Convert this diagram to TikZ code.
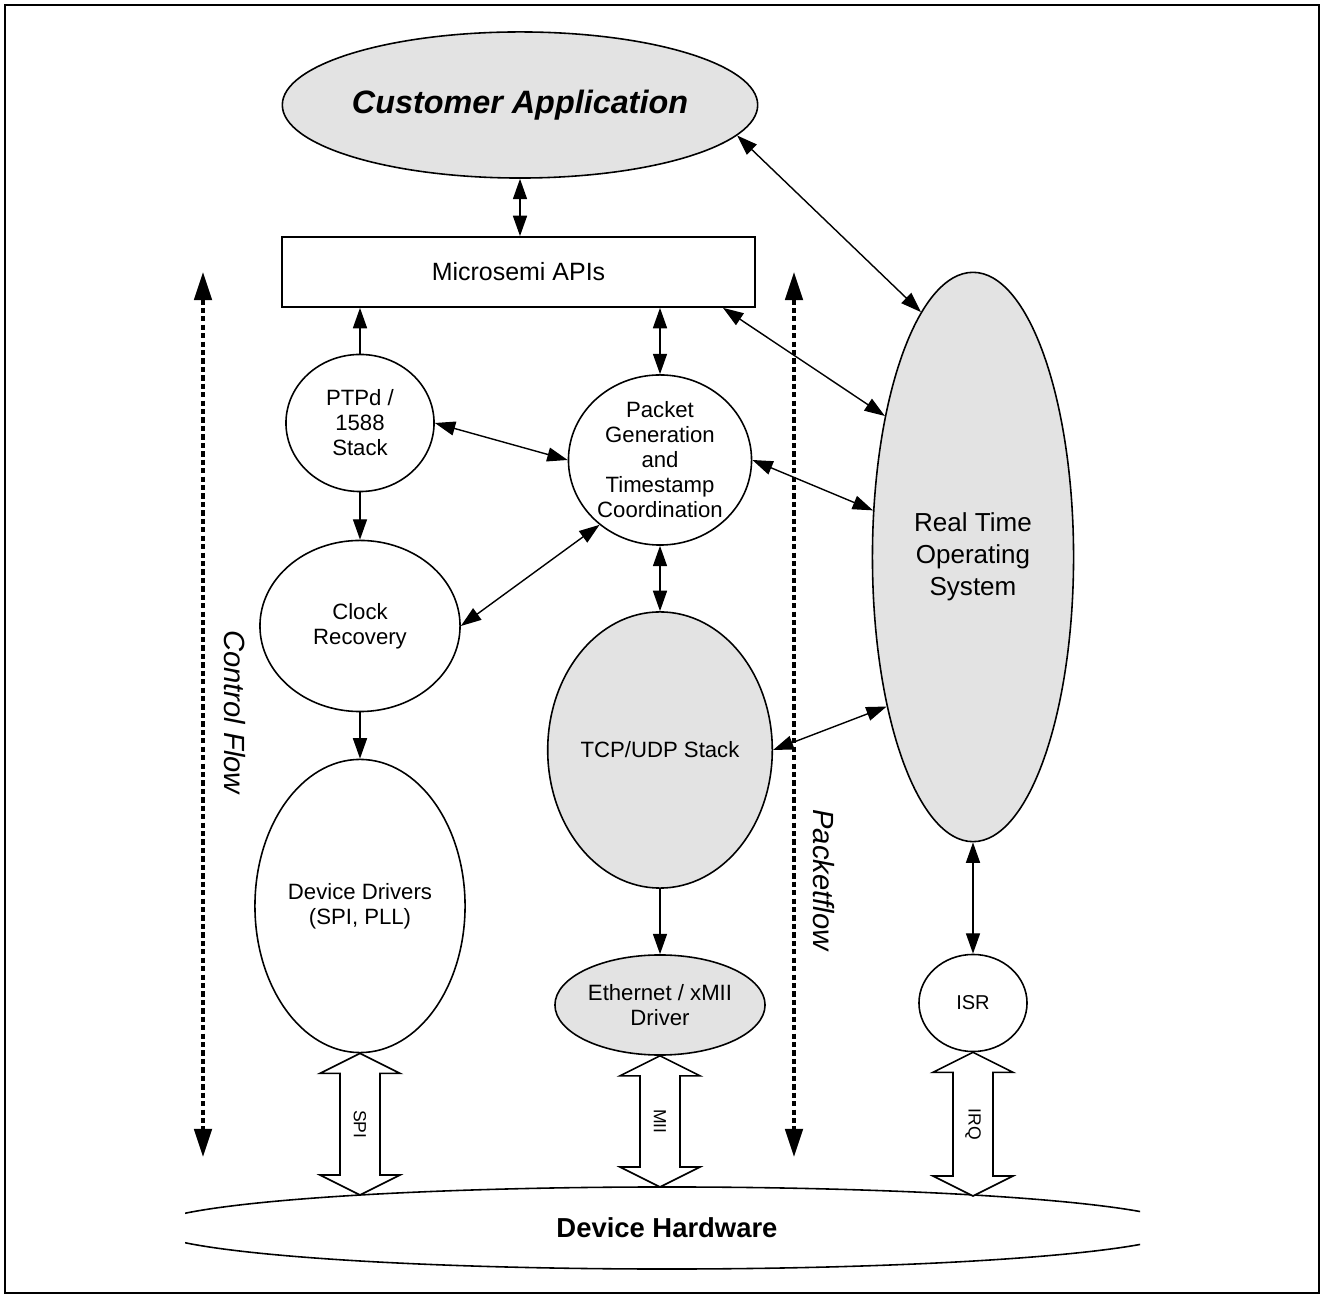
\documentclass[tikz,border=0pt]{standalone}
\usepackage{fontspec}
\setmainfont{Liberation Sans}
\usetikzlibrary{arrows.meta,shapes.geometric,calc}

% hollow two-headed arrow between two tips, with a label inside
\newcommand{\hollowarrow}[3]{%
  \draw[line width=0.45pt, fill=white] (#1) -- ++(40,20) -- ++(-20,0)
    -- ($(#2)+(20,-20)$) -- ++(20,0) -- (#2) -- ++(-40,-20) -- ++(20,0)
    -- ($(#1)+(-20,20)$) -- ++(-20,0) -- cycle;
  \node[tag] at ($(#1)!0.5!(#2)$) {#3};}

\begin{document}
\begin{tikzpicture}[x=0.01cm, y=-0.01cm, >={Triangle[length=5.8pt,width=4pt]},
    every node/.style={inner sep=0pt},
    blob/.style={ellipse, draw, line width=0.45pt, align=center,
      font=\fontsize{6.3}{7.1}\selectfont},
    grey/.style={fill=black!11},
    link/.style={<->, line width=0.4pt},
    flow/.style={<->, line width=0.9pt, dash pattern=on 1.5pt off 0.9pt,
      >={Triangle[length=8pt,width=5pt]}},
    tag/.style={rotate=-90, font=\fontsize{5}{6}\selectfont},
    flowtag/.style={rotate=-90, font=\itshape\fontsize{8.3}{10}\selectfont}]

  \useasboundingbox (0,0) rectangle (1321,1295);
  \draw[line width=0.6pt] (5,5) rectangle (1319,1293);

  % top
  \node[blob, grey, minimum width=4.72cm, minimum height=1.46cm,
    font=\bfseries\itshape\fontsize{9.2}{11}\selectfont] (app) at (520,105) {Customer Application};
  \node[draw, line width=0.5pt, minimum width=4.73cm, minimum height=0.70cm,
    font=\fontsize{7.1}{8}\selectfont] (api) at (518.5,272) {Microsemi APIs};

  % left column
  \node[blob, minimum width=1.48cm, minimum height=1.37cm] (ptp) at (360,423) {PTPd /\\1588\\Stack};
  \node[blob, minimum width=2.00cm, minimum height=1.71cm] (clk) at (360,626) {Clock\\Recovery};
  \node[blob, minimum width=2.10cm, minimum height=2.93cm] (drv) at (360,906) {Device Drivers\\(SPI, PLL)};

  % middle column
  \node[blob, minimum width=1.83cm, minimum height=1.70cm] (pkt) at (660,460)
    {Packet\\Generation\\and\\Timestamp\\Coordination};
  \node[blob, grey, minimum width=2.22cm, minimum height=2.76cm] (tcp) at (660,750) {TCP/UDP Stack};
  \node[blob, grey, minimum width=2.10cm, minimum height=1.00cm] (eth) at (660,1005) {Ethernet / xMII\\Driver};

  % right column
  \node[blob, grey, minimum width=2.01cm, minimum height=5.69cm,
    font=\fontsize{7.4}{9.1}\selectfont] (rtos) at (973,557) {Real Time\\Operating\\System};
  \node[blob, minimum width=1.08cm, minimum height=0.97cm,
    font=\fontsize{5.7}{6.5}\selectfont] (isr) at (973,1003) {ISR};

  % hardware, cut off at both ends
  \begin{scope}
    \clip (185,1150) rectangle (1140,1290);
    \node[ellipse, draw, line width=0.45pt, minimum width=10.32cm, minimum height=0.82cm,
      font=\bfseries\fontsize{7.8}{9}\selectfont] (hw) at (667,1228) {Device Hardware};
  \end{scope}

  % connectors
  \draw[link] (app.south) -- (app.south |- api.north);
  \draw[link] (app.-8) -- (rtos.102);
  \draw[->, line width=0.4pt] (ptp.north) -- (ptp.north |- api.south);
  \draw[link] (pkt.north |- api.south) -- (pkt.north);
  \draw[link] ([xshift=-0.33cm]api.south east) -- (rtos.122);
  \draw[link] (ptp.east) -- (pkt.west);
  \draw[link] (pkt.east) -- (rtos.155);
  \draw[->, line width=0.4pt] (ptp.south) -- (clk.north);
  \draw[link] (pkt.227) -- (clk.east);
  \draw[link] (pkt.south) -- (tcp.north);
  \draw[->, line width=0.4pt] (clk.south) -- (drv.north);
  \draw[link] (tcp.east) -- (rtos.240);
  \draw[->, line width=0.4pt] (tcp.south) -- (eth.north);
  \draw[link] (rtos.south) -- (isr.north);

  % hardware interfaces
  \coordinate (hwspi) at (361,1195);
  \coordinate (hwmii) at (660,1187);
  \coordinate (hwirq) at (973,1196);
  \hollowarrow{drv.south}{drv.south |- hwspi}{SPI}
  \hollowarrow{eth.south}{eth.south |- hwmii}{MII}
  \hollowarrow{isr.south}{isr.south |- hwirq}{IRQ}

  % flow directions
  \coordinate (cftop) at (203,272);
  \coordinate (cfbot) at (203,1157);
  \coordinate (pftop) at (794,272);
  \coordinate (pfbot) at (794,1157);
  \draw[flow] (cftop) -- (cfbot);
  \draw[flow] (pftop) -- (pfbot);
  \node[flowtag] (cflabel) at (235,712) {Control Flow};
  \node[flowtag] (pflabel) at (824,880) {Packetflow};

\end{tikzpicture}
\end{document}
